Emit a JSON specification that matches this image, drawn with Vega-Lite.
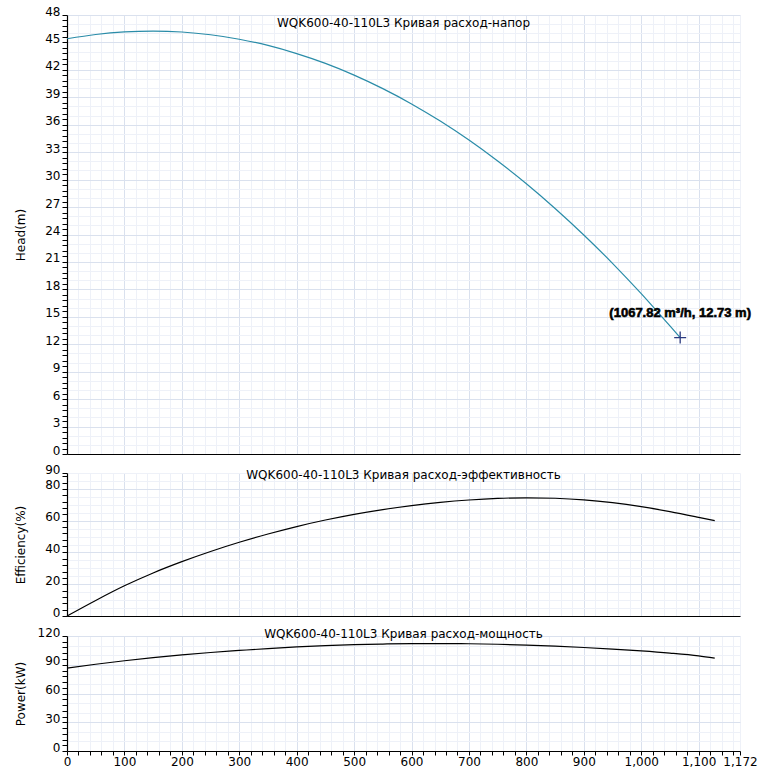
{
  "$schema": "https://vega.github.io/schema/vega-lite/v6.json",
  "background": "white",
  "padding": {"left": 13, "top": 5, "right": 5, "bottom": 5},
  "spacing": 7,
  "config": {
    "font": "DejaVu Sans",
    "view": {"stroke": null},
    "axis": {
      "labelFont": "DejaVu Sans", "labelFontSize": 12, "labelColor": "#000",
      "titleFont": "DejaVu Sans", "titleFontSize": 12, "titleFontWeight": "normal", "titleColor": "#000",
      "domainColor": "#000", "domainWidth": 1.2, "tickColor": "#000", "labelOverlap": false, "tickCount": 500
    }
  },
  "vconcat": [
    {
      "width": 673, "height": 439,
      "layer": [
        {
          "data": {"values": [
            {"Q": 0, "H": 45.4}, {"Q": 50, "H": 45.87}, {"Q": 100, "H": 46.15}, {"Q": 150, "H": 46.24},
            {"Q": 200, "H": 46.14}, {"Q": 250, "H": 45.84}, {"Q": 300, "H": 45.35}, {"Q": 350, "H": 44.67},
            {"Q": 400, "H": 43.78}, {"Q": 450, "H": 42.71}, {"Q": 500, "H": 41.43}, {"Q": 550, "H": 39.95},
            {"Q": 600, "H": 38.28}, {"Q": 650, "H": 36.4}, {"Q": 700, "H": 34.32}, {"Q": 750, "H": 32.03},
            {"Q": 800, "H": 29.55}, {"Q": 850, "H": 26.85}, {"Q": 900, "H": 23.95}, {"Q": 950, "H": 20.85},
            {"Q": 1000, "H": 17.53}, {"Q": 1050, "H": 14.0}, {"Q": 1067.82, "H": 12.73}
          ]},
          "mark": {"type": "line", "color": "#2a8ca8", "strokeWidth": 1.2, "interpolate": "monotone"},
          "encoding": {
            "x": {"field": "Q", "type": "quantitative", "scale": {"domain": [0, 1172], "nice": false, "zero": false},
              "axis": {"title": null, "labels": false, "ticks": false, "domain": true, "tickCount": 500, "labelOverlap": false,
                "values": [0,20,40,60,80,100,120,140,160,180,200,220,240,260,280,300,320,340,360,380,400,420,440,460,480,500,520,540,560,580,600,620,640,660,680,700,720,740,760,780,800,820,840,860,880,900,920,940,960,980,1000,1020,1040,1060,1080,1100,1120,1140,1160,1172],
                "grid": true,
                "gridColor": {"condition": {"test": "datum.value % 100 === 0", "value": "#dae1ee"}, "value": "#eef1f8"}}},
            "y": {"field": "H", "type": "quantitative", "scale": {"domain": [0, 48], "nice": false},
              "axis": {"title": "Head(m)", "titleX": -47, "titleBaseline": "middle", "tickCount": 500, "labelOverlap": false,
                "values": [0,0.6,1,1.2,1.8,2,2.4,3,3.6,4,4.2,4.8,5,5.4,6,6.6,7,7.2,7.8,8,8.4,9,9.6,10,10.2,10.8,11,11.4,12,12.6,13,13.2,13.8,14,14.4,15,15.6,16,16.2,16.8,17,17.4,18,18.6,19,19.2,19.8,20,20.4,21,21.6,22,22.2,22.8,23,23.4,24,24.6,25,25.2,25.8,26,26.4,27,27.6,28,28.2,28.8,29,29.4,30,30.6,31,31.2,31.8,32,32.4,33,33.6,34,34.2,34.8,35,35.4,36,36.6,37,37.2,37.8,38,38.4,39,39.6,40,40.2,40.8,41,41.4,42,42.6,43,43.2,43.8,44,44.4,45,45.6,46,46.2,46.8,47,47.4,48],
                "labelExpr": "abs(datum.value/3 - round(datum.value/3)) < 0.001 ? format(round(datum.value), 'd') : ''",
                "labelBaseline": "alphabetic", "labelPadding": 2, "tickSize": 5,
                "tickOpacity": {"condition": {"test": "abs(datum.value/0.6 - round(datum.value/0.6)) < 0.001", "value": 1}, "value": 0},
                "grid": true,
                "gridOpacity": {"condition": {"test": "abs(datum.value - round(datum.value)) < 0.001", "value": 1}, "value": 0},
                "gridColor": {"condition": {"test": "abs(datum.value/3 - round(datum.value/3)) < 0.001", "value": "#dae1ee"}, "value": "#eef1f8"}}}
          }
        },
        {
          "data": {"values": [{"Q": 1067.82, "H": 12.73, "label": "(1067.82 m³/h, 12.73 m)"}]},
          "mark": {"type": "point", "shape": "M-1,0L1,0M0,-1L0,1", "filled": false, "size": 144, "stroke": "#2b3a80", "strokeWidth": 1.3, "opacity": 1},
          "encoding": {
            "x": {"field": "Q", "type": "quantitative", "scale": {"domain": [0, 1172], "nice": false, "zero": false}},
            "y": {"field": "H", "type": "quantitative", "scale": {"domain": [0, 48], "nice": false}}
          }
        },
        {
          "data": {"values": [{"Q": 1067.82, "H": 12.73, "label": "(1067.82 m³/h, 12.73 m)"}]},
          "mark": {"type": "text", "dy": -25, "baseline": "middle", "align": "center", "font": "Liberation Sans", "fontSize": 13, "fontWeight": "bold", "fill": "#000", "stroke": "#000", "strokeWidth": 0.6},
          "encoding": {
            "x": {"field": "Q", "type": "quantitative", "scale": {"domain": [0, 1172], "nice": false, "zero": false}},
            "y": {"field": "H", "type": "quantitative", "scale": {"domain": [0, 48], "nice": false}},
            "text": {"field": "label"}
          }
        },
        {
          "data": {"values": [{"title": "WQK600-40-110L3 Кривая расход-напор"}]},
          "mark": {"type": "text", "dy": 8, "baseline": "middle", "align": "center", "font": "DejaVu Sans", "fontSize": 12, "color": "#000"},
          "encoding": {
            "x": {"datum": 586, "type": "quantitative"},
            "y": {"datum": 48, "type": "quantitative"},
            "text": {"field": "title"}
          }
        }
      ]
    },
    {
      "width": 673, "height": 143,
      "layer": [
        {
          "data": {"values": [
            {"Q": 0, "E": 0}, {"Q": 50, "E": 9.8}, {"Q": 100, "E": 19.0}, {"Q": 150, "E": 27.1}, {"Q": 200, "E": 34.2},
            {"Q": 250, "E": 40.6}, {"Q": 300, "E": 46.4}, {"Q": 350, "E": 51.6}, {"Q": 400, "E": 56.3}, {"Q": 450, "E": 60.4},
            {"Q": 500, "E": 64.0}, {"Q": 550, "E": 67.0}, {"Q": 600, "E": 69.5}, {"Q": 650, "E": 71.5}, {"Q": 700, "E": 73.0},
            {"Q": 750, "E": 74.0}, {"Q": 800, "E": 74.4}, {"Q": 850, "E": 74.1}, {"Q": 900, "E": 73.1}, {"Q": 950, "E": 71.3},
            {"Q": 1000, "E": 68.8}, {"Q": 1050, "E": 65.7}, {"Q": 1100, "E": 62.1}, {"Q": 1128, "E": 60.0}
          ]},
          "mark": {"type": "line", "color": "#000", "strokeWidth": 1.2, "interpolate": "monotone"},
          "encoding": {
            "x": {"field": "Q", "type": "quantitative", "scale": {"domain": [0, 1172], "nice": false, "zero": false},
              "axis": {"title": null, "labels": false, "ticks": false, "domain": true, "tickCount": 500, "labelOverlap": false,
                "values": [0,20,40,60,80,100,120,140,160,180,200,220,240,260,280,300,320,340,360,380,400,420,440,460,480,500,520,540,560,580,600,620,640,660,680,700,720,740,760,780,800,820,840,860,880,900,920,940,960,980,1000,1020,1040,1060,1080,1100,1120,1140,1160,1172],
                "grid": true,
                "gridColor": {"condition": {"test": "datum.value % 100 === 0", "value": "#dae1ee"}, "value": "#eef1f8"}}},
            "y": {"field": "E", "type": "quantitative", "scale": {"domain": [0, 90], "nice": false},
              "axis": {"title": "Efficiency(%)", "titleX": -47, "titleBaseline": "middle", "tickCount": 500, "labelOverlap": false,
                "values": [0,4,5,8,10,12,15,16,20,24,25,28,30,32,35,36,40,44,45,48,50,52,55,56,60,64,65,68,70,72,75,76,80,84,85,88,90],
                "labelExpr": "datum.value % 20 === 0 || datum.value === 90 ? format(datum.value, 'd') : ''",
                "labelBaseline": "alphabetic", "labelPadding": 2, "tickSize": 5,
                "tickOpacity": {"condition": {"test": "datum.value % 4 === 0 || datum.value === 90", "value": 1}, "value": 0},
                "grid": true,
                "gridOpacity": {"condition": {"test": "datum.value % 5 === 0", "value": 1}, "value": 0},
                "gridColor": {"condition": {"test": "datum.value % 20 === 0", "value": "#dae1ee"}, "value": "#eef1f8"}}}
          }
        },
        {
          "data": {"values": [{"title": "WQK600-40-110L3 Кривая расход-эффективность"}]},
          "mark": {"type": "text", "dy": 2, "baseline": "middle", "align": "center", "font": "DejaVu Sans", "fontSize": 12, "color": "#000"},
          "encoding": {
            "x": {"datum": 586, "type": "quantitative"},
            "y": {"datum": 90, "type": "quantitative"},
            "text": {"field": "title"}
          }
        }
      ]
    },
    {
      "width": 673, "height": 115,
      "layer": [
        {
          "data": {"values": [
            {"Q": 0, "P": 86.5}, {"Q": 50, "P": 90.5}, {"Q": 100, "P": 94.2}, {"Q": 150, "P": 97.5}, {"Q": 200, "P": 100.4},
            {"Q": 250, "P": 102.8}, {"Q": 300, "P": 104.9}, {"Q": 350, "P": 106.9}, {"Q": 400, "P": 108.6}, {"Q": 450, "P": 109.9},
            {"Q": 500, "P": 110.9}, {"Q": 550, "P": 111.6}, {"Q": 600, "P": 112.0}, {"Q": 650, "P": 112.1}, {"Q": 700, "P": 111.9},
            {"Q": 750, "P": 111.4}, {"Q": 800, "P": 110.5}, {"Q": 850, "P": 109.4}, {"Q": 900, "P": 108.0}, {"Q": 950, "P": 106.4},
            {"Q": 1000, "P": 104.5}, {"Q": 1050, "P": 102.2}, {"Q": 1100, "P": 99.3}, {"Q": 1128, "P": 97.0}
          ]},
          "mark": {"type": "line", "color": "#000", "strokeWidth": 1.2, "interpolate": "monotone"},
          "encoding": {
            "x": {"field": "Q", "type": "quantitative", "scale": {"domain": [0, 1172], "nice": false, "zero": false},
              "axis": {"title": null, "tickSize": 4, "labelPadding": 1, "labelFlush": false, "tickCount": 500, "labelOverlap": false,
                "values": [0,20,40,60,80,100,120,140,160,180,200,220,240,260,280,300,320,340,360,380,400,420,440,460,480,500,520,540,560,580,600,620,640,660,680,700,720,740,760,780,800,820,840,860,880,900,920,940,960,980,1000,1020,1040,1060,1080,1100,1120,1140,1160,1172],
                "labelExpr": "datum.value % 100 === 0 || datum.value === 1172 ? format(datum.value, ',') : ''",
                "grid": true,
                "gridColor": {"condition": {"test": "datum.value % 100 === 0", "value": "#dae1ee"}, "value": "#eef1f8"}}},
            "y": {"field": "P", "type": "quantitative", "scale": {"domain": [0, 120], "nice": false},
              "axis": {"title": "Power(kW)", "titleX": -47, "titleBaseline": "middle", "tickCount": 500, "labelOverlap": false,
                "values": [0,6,10,12,18,20,24,30,36,40,42,48,50,54,60,66,70,72,78,80,84,90,96,100,102,108,110,114,120],
                "labelExpr": "datum.value % 30 === 0 ? format(datum.value, 'd') : ''",
                "labelBaseline": "alphabetic", "labelPadding": 2, "tickSize": 5,
                "tickOpacity": {"condition": {"test": "datum.value % 6 === 0", "value": 1}, "value": 0},
                "grid": true,
                "gridOpacity": {"condition": {"test": "datum.value % 10 === 0", "value": 1}, "value": 0},
                "gridColor": {"condition": {"test": "datum.value % 30 === 0", "value": "#dae1ee"}, "value": "#eef1f8"}}}
          }
        },
        {
          "data": {"values": [{"title": "WQK600-40-110L3 Кривая расход-мощность"}]},
          "mark": {"type": "text", "dy": -2, "baseline": "middle", "align": "center", "font": "DejaVu Sans", "fontSize": 12, "color": "#000"},
          "encoding": {
            "x": {"datum": 586, "type": "quantitative"},
            "y": {"datum": 120, "type": "quantitative"},
            "text": {"field": "title"}
          }
        }
      ]
    }
  ]
}
